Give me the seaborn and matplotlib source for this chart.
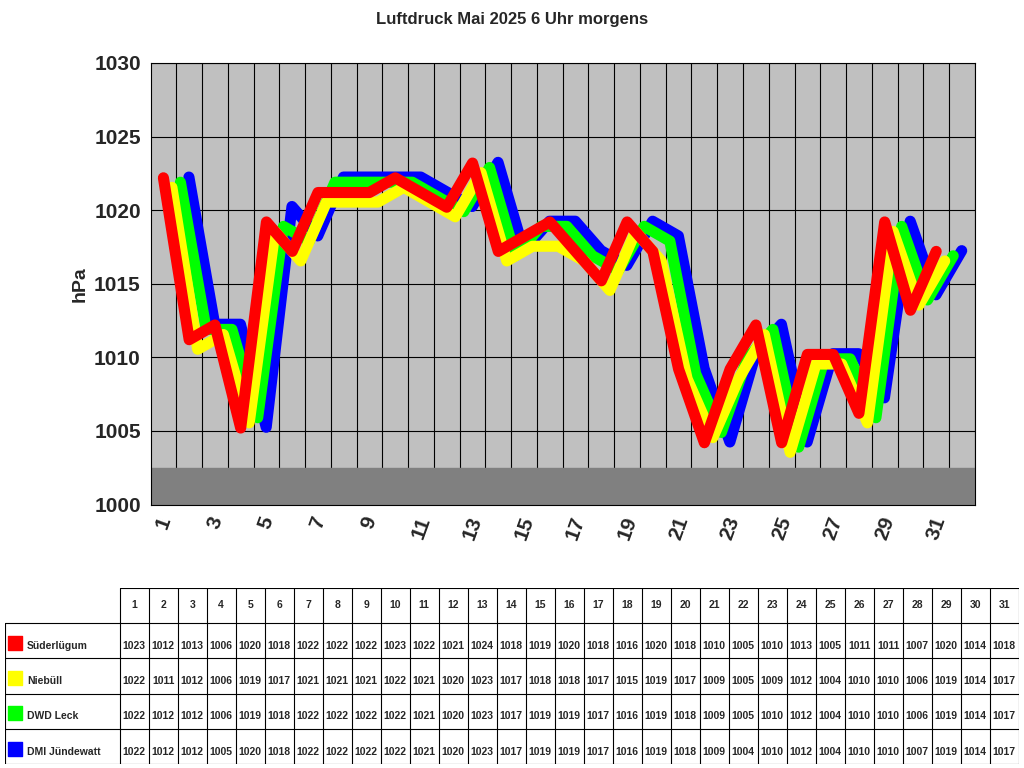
import matplotlib
matplotlib.use("Agg")
import matplotlib.pyplot as plt
import seaborn as sns
import pandas as pd
import numpy as np

days = list(range(1, 32))
series_names = ["Süderlügum", "Niebüll", "DWD Leck", "DMI Jündewatt"]
colors = ["#ff0000", "#ffff00", "#00ff00", "#0000ff"]

suederluegum = [1023, 1012, 1013, 1006, 1020, 1018, 1022, 1022, 1022, 1023, 1022, 1021, 1024, 1018, 1019, 1020,
                1018, 1016, 1020, 1018, 1010, 1005, 1010, 1013, 1005, 1011, 1011, 1007, 1020, 1014, 1018]
niebuell = [1022, 1011, 1012, 1006, 1019, 1017, 1021, 1021, 1021, 1022, 1021, 1020, 1023, 1017, 1018, 1018,
            1017, 1015, 1019, 1017, 1009, 1005, 1009, 1012, 1004, 1010, 1010, 1006, 1019, 1014, 1017]
dwd_leck = [1022, 1012, 1012, 1006, 1019, 1018, 1022, 1022, 1022, 1022, 1021, 1020, 1023, 1017, 1019, 1019,
            1017, 1016, 1019, 1018, 1009, 1005, 1010, 1012, 1004, 1010, 1010, 1006, 1019, 1014, 1017]
dmi_juendewatt = [1022, 1012, 1012, 1005, 1020, 1018, 1022, 1022, 1022, 1022, 1021, 1020, 1023, 1017, 1019, 1019,
                  1017, 1016, 1019, 1018, 1009, 1004, 1010, 1012, 1004, 1010, 1010, 1007, 1019, 1014, 1017]
all_series = [suederluegum, niebuell, dwd_leck, dmi_juendewatt]

sns.set_style("white")
plt.rcParams["font.family"] = "Liberation Sans"

fig = plt.figure(figsize=(10.24, 7.68), dpi=100)
fig.text(0.5, 0.975, "Luftdruck Mai 2025 6 Uhr morgens", ha="center", va="center",
         fontsize=12, fontweight="bold")

# chart area (pseudo 3D: back series shifted right/up)
ax = fig.add_axes([0.147, 0.343, 0.805, 0.575])
ax.set_facecolor("#c0c0c0")
depth_dx, depth_dy = 0.33, 0.35
for k in range(3, -1, -1):
    df = pd.DataFrame({"day": np.array(days) + k * depth_dx,
                       "hPa": np.array(all_series[k]) - 0.8 + k * depth_dy})
    sns.lineplot(data=df, x="day", y="hPa", ax=ax, color=colors[k], linewidth=8,
                 legend=False)
for yv in range(1005, 1031, 5):
    ax.axhline(yv, color="black", linewidth=0.8, zorder=0)
for xv in np.arange(1.5, 33.5, 1):
    ax.axvline(xv, color="black", linewidth=0.8, zorder=0)
ax.axhspan(1000, 1002.5, color="#808080", zorder=0.5)
ax.set_xlim(0.5, 32.5)
ax.set_ylim(1000, 1030)
ax.set_yticks(range(1000, 1031, 5))
ax.set_yticklabels([str(v) for v in range(1000, 1031, 5)], fontsize=15, fontweight="bold")
ax.set_xticks(days)
ax.set_xticklabels([str(d) if d % 2 else "" for d in days], fontsize=15, fontweight="bold",
                   rotation=70)
ax.set_xlabel("")
ax.set_ylabel("hPa", fontsize=14, fontweight="bold")
for s in ax.spines.values():
    s.set_color("black")

# data table
tax = fig.add_axes([0.005, 0.005, 0.99, 0.23])
tax.set_xlim(0, 1018)
tax.set_ylim(0, 176)
tax.invert_yaxis()
tax.axis("off")
label_w = 115
cell_w = (1018 - label_w) / 31
row_h = 176 / 5
for i in range(6):
    y = i * row_h
    x0 = label_w if i == 0 else 0
    tax.plot([x0, 1018], [y, y], color="black", linewidth=0.8)
tax.plot([0, 0], [row_h, 176], color="black", linewidth=0.8)
for j in range(32):
    x = label_w + j * cell_w
    tax.plot([x, x], [0, 176], color="black", linewidth=0.8)
for j, d in enumerate(days):
    tax.text(label_w + (j + 0.5) * cell_w, row_h * 0.5, str(d), ha="center", va="center",
             fontsize=7.5, fontweight="bold")
for r, (name, vals) in enumerate(zip(series_names, all_series)):
    yc = row_h * (r + 1.5)
    tax.scatter([10], [yc + 2], marker="s", s=110, color=colors[r])
    tax.text(22, yc + 5, name, ha="left", va="center", fontsize=7.5, fontweight="bold")
    for j, v in enumerate(vals):
        tax.text(label_w + (j + 0.5) * cell_w, yc + 5, str(v), ha="center", va="center",
                 fontsize=7.5, fontweight="bold")

fig.savefig("out.png", dpi=100)
